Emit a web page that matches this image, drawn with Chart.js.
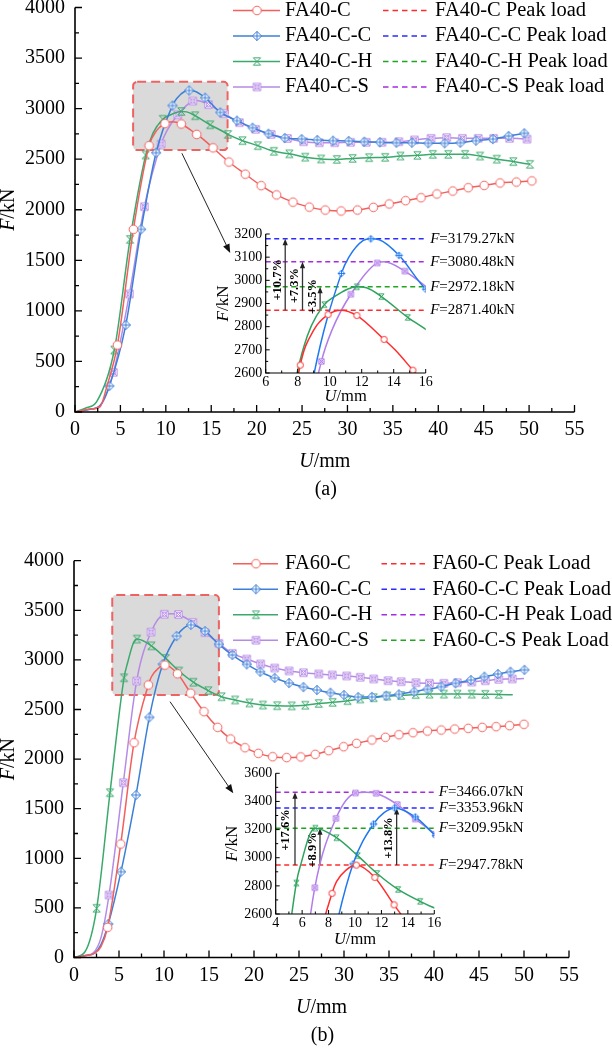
<!DOCTYPE html>
<html>
<head>
<meta charset="utf-8">
<script src="https://cdn.jsdelivr.net/npm/chart.js@4.4.1/dist/chart.umd.min.js"></script>
<style>
body { margin: 0; background: #fff; }
#wrap { position: relative; width: 612px; height: 1050px; overflow: hidden; background: #fff; }
canvas { position: absolute; }
</style>
</head>
<body>
<div id="wrap">
  <canvas id="topMain" width="612" height="520" style="left:0px;top:0px;width:612px;height:520px"></canvas>
  <canvas id="topInset" width="330" height="200" style="left:200px;top:215px;width:330px;height:200px"></canvas>
  <canvas id="botMain" width="612" height="510" style="left:0px;top:540px;width:612px;height:510px"></canvas>
  <canvas id="botInset" width="330" height="200" style="left:205px;top:755px;width:330px;height:200px"></canvas>
</div>
<script>
const serif = "'Liberation Serif', 'Times New Roman', serif";

// ---------- panel (a): FA40 ----------
const topNames = ['FA40-C', 'FA40-C-C', 'FA40-C-H', 'FA40-C-S'];
const topPeakNames = ['FA40-C Peak load', 'FA40-C-C Peak load', 'FA40-C-H Peak load', 'FA40-C-S Peak load'];
const topPeaks = [2871.40, 3179.27, 2972.18, 3080.48];

// [U (mm), F (kN)]; "Marks" carry a symbol, "Extra" only shape the line
const topRedMarks = [[4.67,662],[6.43,1806],[8.16,2634],[9.9,2852],[11.7,2848],[13.4,2745],[15.2,2612],[16.95,2472],[18.75,2352],[20.5,2238],[22.2,2147],[24.0,2075],[25.8,2026],[27.55,1997],[29.3,1988],[31.1,1997],[32.85,2024],[34.6,2057],[36.4,2090],[38.1,2119],[39.85,2156],[41.6,2185],[43.3,2218],[45.05,2241],[46.8,2265],[48.6,2274],[50.3,2285]];
const topRedExtra = [[0,0],[1.5,28],[2.76,52],[3.5,250],[9.0,2785],[10.7,2871.40],[14.1,2699]];
const topBlueMarks = [[3.78,257],[5.59,860],[7.28,1806],[8.93,2564],[10.73,3030],[12.57,3179.27],[14.33,3108],[16.0,2962],[17.83,2881],[19.55,2811],[21.3,2752],[23.1,2709],[24.96,2699],[26.68,2690],[28.41,2683],[30.13,2680],[31.86,2673],[33.59,2667],[35.4,2663],[37.1,2663],[38.9,2657],[40.7,2657],[42.44,2663],[44.16,2683],[46.02,2699],[47.74,2729],[49.47,2756]];
const topBlueExtra = [[0,0],[1.5,25],[2.8,70],[11.2,3100],[12.1,3172],[13.1,3175]];
const topGreenMarks = [[4.33,613],[6.06,1707],[7.79,2541],[9.67,2895],[11.7,2972.18],[13.23,2930],[14.88,2840],[16.84,2745],[18.45,2683],[20.14,2634],[21.9,2578],[23.6,2553],[25.35,2520],[27.1,2502],[28.84,2498],[30.57,2508],[32.38,2515],[34.15,2518],[35.83,2531],[37.7,2538],[39.4,2548],[41.1,2548],[42.95,2548],[44.6,2531],[46.45,2500],[48.26,2476],[50.1,2449]];
const topGreenExtra = [[0,0],[1.2,40],[2.39,102],[8.6,2760],[10.2,2925],[12.3,2968],[16.2,2779]];
const topPurpleMarks = [[4.23,392],[5.99,1167],[7.64,2030],[9.48,2650],[11.32,2940],[12.97,3075],[14.7,3040],[16.43,2950],[18.1,2861],[19.9,2795],[21.6,2745],[23.4,2705],[25.17,2673],[26.9,2663],[28.6,2663],[30.35,2667],[32.07,2667],[33.8,2667],[35.66,2673],[37.38,2690],[39.2,2706],[40.93,2713],[42.66,2706],[44.4,2706],[46.1,2706],[47.85,2706],[49.77,2699]];
const topPurpleExtra = [[0,0],[1.5,25],[2.8,65],[10.14,2785],[13.4,3080.48],[16.0,2974]];

const topGainLabels = ['+10.7%', '+7.3%', '+3.5%'];
const topGainTo = [3179.27, 3080.48, 2972.18];
const topGainX = [7.22, 8.3, 9.4];
const topGainTextX = [6.75, 7.8, 8.96];
const topGainTextY = [3002, 2977, 2930];
const topZoomBox = [6.4, 16.8, 2590, 3265];
const topPointer = [[11.77, 2558], [17.09, 1572]];

// ---------- panel (b): FA60 ----------
const botNames = ['FA60-C', 'FA60-C-C', 'FA60-C-H', 'FA60-C-S'];
const botPeakNames = ['FA60-C Peak Load', 'FA60-C-C Peak Load', 'FA60-C-H Peak Load', 'FA60-C-S Peak Load'];
const botPeaks = [2947.78, 3353.96, 3209.95, 3466.07];

const botRedMarks = [[3.74,304],[5.19,1144],[6.67,2165],[8.26,2747],[10.1,2947.78],[11.5,2860],[12.96,2665],[14.44,2478],[15.96,2320],[17.4,2203],[19.0,2115],[20.48,2058],[22.07,2024],[23.63,2015],[25.2,2022],[26.8,2048],[28.3,2085],[29.96,2125],[31.4,2159],[33.1,2193],[34.6,2220],[36.1,2246],[37.66,2266],[39.27,2283],[40.8,2293],[42.3,2303],[43.8,2310],[45.36,2320],[46.9,2327],[48.4,2337],[50.0,2351]];
const botRedExtra = [[0,0],[1.2,18],[2.3,45],[3.0,110],[8.6,2830],[9.3,2910]];
const botBlueMarks = [[3.81,338],[5.22,865],[6.89,1638],[8.37,2421],[9.85,2956],[11.4,3240],[13.0,3353.96],[14.56,3290],[16.1,3157],[17.6,3049],[19.2,2955],[20.7,2880],[22.3,2818],[23.9,2767],[25.5,2726],[27.0,2697],[28.5,2669],[30.0,2646],[31.57,2625],[33.1,2627],[34.7,2639],[36.1,2653],[37.8,2680],[39.27,2703],[40.8,2730],[42.4,2764],[44.1,2797],[45.6,2831],[47.1,2858],[48.5,2881],[50.05,2900]];
const botBlueExtra = [[0,0],[1.2,18],[2.3,45],[3.0,130],[12.2,3320]];
const botGreenMarks = [[2.52,496],[4.0,1661],[5.56,2820],[7.0,3209.95],[8.6,3142],[10.2,3015],[11.67,2888],[13.26,2775],[14.93,2690],[16.4,2629],[17.9,2596],[19.5,2566],[21.0,2545],[22.57,2538],[24.2,2536],[25.7,2543],[27.2,2560],[28.74,2572],[30.4,2589],[31.8,2606],[33.3,2619],[34.8,2636],[36.35,2641],[37.97,2650],[39.5,2655],[41.1,2655],[42.6,2655],[44.2,2655],[45.7,2653],[47.2,2652]];
const botGreenExtra = [[0,0],[1.22,58],[5.97,2976],[6.6,3170],[48.75,2648]];
const botPurpleMarks = [[3.89,630],[5.48,1762],[6.96,2787],[8.56,3280],[10.04,3460],[11.6,3458],[13.2,3378],[14.56,3275],[16.1,3167],[17.6,3066],[19.2,3009],[20.74,2959],[22.3,2918],[23.9,2889],[25.5,2871],[27.2,2858],[28.7,2848],[30.3,2838],[31.8,2825],[33.3,2808],[34.9,2790],[36.35,2780],[38.0,2770],[39.5,2764],[41.1,2764],[42.6,2770],[44.2,2777],[45.7,2790],[47.2,2804],[48.7,2808]];
const botPurpleExtra = [[0,0],[1.2,20],[2.15,48],[3.0,200],[10.8,3466.07],[50.0,2812]];

const botGainLabels = ['+17.6%', '+8.9%', '+13.8%'];
const botGainTo = [3466.07, 3209.95, 3353.96];
const botGainX = [5.46, 7.35, 13.15];
const botGainTextX = [4.78, 6.84, 12.52];
const botGainTextY = [3197, 3055, 3140];
const botZoomBox = [4.25, 16.1, 2646, 3654];
const botPointer = [[10.67, 2579], [17.7, 1655]];

// ---------- ticks ----------
const mainXTicks = [0, 5, 10, 15, 20, 25, 30, 35, 40, 45, 50, 55];
const mainYTicks = [0, 500, 1000, 1500, 2000, 2500, 3000, 3500, 4000];
const topInsetXTicks = [6, 8, 10, 12, 14, 16];
const topInsetYTicks = [2600, 2700, 2800, 2900, 3000, 3100, 3200];
const botInsetXTicks = [4, 6, 8, 10, 12, 14, 16];
const botInsetYTicks = [2600, 2800, 3000, 3200, 3400, 3600];

// ---------- styles ----------
const mainColors = ['#f25f5c', '#3c7fd8', '#3aa96b', '#b68be6'];
const insetColors = ['#ff2d2d', '#1f78f0', '#2ea35e', '#b27ceb'];
const peakRed = '#ff2b2b', peakBlue = '#2b2bff', peakGreen = '#1fa51f', peakPurple = '#a72be0';
const topPeakColors = [peakRed, peakBlue, peakGreen, peakPurple];
const botLegendPeakColors = [peakRed, peakBlue, peakPurple, peakGreen];
const botPeakColors = [peakRed, peakBlue, peakGreen, peakPurple];
const markerKinds = ['circle', 'diamond', 'hourglass', 'box'];

function makeMarker(kind, color, r) {
  const n = Math.ceil(2 * r + 4);
  const c = document.createElement('canvas');
  c.width = n; c.height = n;
  const g = c.getContext('2d');
  const m = n / 2;
  g.strokeStyle = color; g.fillStyle = '#fff'; g.lineWidth = 1;
  g.beginPath();
  if (kind === 'circle') {
    g.arc(m, m, r, 0, Math.PI * 2); g.fill(); g.stroke();
  } else if (kind === 'diamond') {
    g.moveTo(m, m - r); g.lineTo(m + r, m); g.lineTo(m, m + r); g.lineTo(m - r, m); g.closePath();
    g.fill(); g.stroke();
    g.beginPath(); g.moveTo(m - r, m); g.lineTo(m + r, m); g.moveTo(m, m - r); g.lineTo(m, m + r); g.stroke();
  } else if (kind === 'hourglass') {
    const q = r * 0.85;
    g.moveTo(m - q, m - q); g.lineTo(m + q, m + q); g.lineTo(m - q, m + q); g.lineTo(m + q, m - q); g.closePath();
    g.stroke();
  } else {
    const q = r * 0.85;
    g.rect(m - q, m - q, 2 * q, 2 * q); g.fill(); g.stroke();
    g.beginPath(); g.moveTo(m - q, m - q); g.lineTo(m + q, m + q); g.moveTo(m + q, m - q); g.lineTo(m - q, m + q); g.stroke();
    g.beginPath(); g.arc(m, m, q * 0.55, 0, Math.PI * 2); g.stroke();
  }
  return c;
}
const mainMarkers = markerKinds.map((k, i) => makeMarker(k, mainColors[i], k === 'diamond' ? 4.6 : 4.3));
const insetMarkers = markerKinds.map((k, i) => makeMarker(k, insetColors[i], k === 'diamond' ? 3.4 : 3.1));

function series(marks, extra) {
  return marks.map(p => ({ x: p[0], y: p[1], m: 1 }))
    .concat(extra.map(p => ({ x: p[0], y: p[1], m: 0 })))
    .sort((a, b) => a.x - b.x);
}

// ---------- drawing helpers ----------
function mixed(ctx, parts, x, y, size, align) {
  const fonts = parts.map(p => (p[1] ? 'italic ' : '') + (p[2] ? 'bold ' : '') + size + 'px ' + serif);
  const widths = parts.map((p, i) => { ctx.font = fonts[i]; return ctx.measureText(p[0]).width; });
  const w = widths.reduce((s, v) => s + v, 0);
  let cx = align === 'center' ? x - w / 2 : x;
  ctx.textAlign = 'left';
  ctx.textBaseline = 'middle';
  ctx.fillStyle = '#000';
  parts.forEach((p, i) => { ctx.font = fonts[i]; ctx.fillText(p[0], cx, y); cx += widths[i]; });
}

function rotated(ctx, parts, x, y, size) {
  ctx.save();
  ctx.translate(x, y);
  ctx.rotate(-Math.PI / 2);
  mixed(ctx, parts, 0, 0, size, 'center');
  ctx.restore();
}

function head(ctx, x0, y0, x1, y1, len, hw) {
  const a = Math.atan2(y1 - y0, x1 - x0);
  const bx = x1 - len * Math.cos(a), by = y1 - len * Math.sin(a);
  ctx.beginPath();
  ctx.moveTo(x1, y1);
  ctx.lineTo(bx + hw * Math.sin(a), by - hw * Math.cos(a));
  ctx.lineTo(bx - hw * Math.sin(a), by + hw * Math.cos(a));
  ctx.closePath();
  ctx.fill();
}

function drawAxes(chart, o) {
  const { ctx, chartArea: a, scales: { x, y } } = chart;
  ctx.save();
  ctx.strokeStyle = '#000';
  ctx.setLineDash([]);
  ctx.lineWidth = o.tickW;
  ctx.beginPath();
  o.xTicks.forEach((v, i) => {
    const px = x.getPixelForValue(v);
    ctx.moveTo(px, a.bottom); ctx.lineTo(px, a.bottom - o.major);
    if (i < o.xTicks.length - 1) {
      const pm = x.getPixelForValue((v + o.xTicks[i + 1]) / 2);
      ctx.moveTo(pm, a.bottom); ctx.lineTo(pm, a.bottom - o.minor);
    }
  });
  o.yTicks.forEach((v, i) => {
    const py = y.getPixelForValue(v);
    ctx.moveTo(a.left, py); ctx.lineTo(a.left + o.major, py);
    if (i < o.yTicks.length - 1) {
      const pm = y.getPixelForValue((v + o.yTicks[i + 1]) / 2);
      ctx.moveTo(a.left, pm); ctx.lineTo(a.left + o.minor, pm);
    }
  });
  ctx.stroke();
  ctx.lineWidth = o.axisW;
  ctx.beginPath();
  ctx.moveTo(a.left, a.top);
  ctx.lineTo(a.left, a.bottom);
  ctx.lineTo(a.right, a.bottom);
  ctx.stroke();
  ctx.restore();
}

function drawZoomBox(chart, b) {
  const { ctx, scales: { x, y } } = chart;
  const x0 = x.getPixelForValue(b[0]), x1 = x.getPixelForValue(b[1]);
  const y0 = y.getPixelForValue(b[3]), y1 = y.getPixelForValue(b[2]);
  ctx.save();
  ctx.beginPath();
  if (ctx.roundRect) ctx.roundRect(x0, y0, x1 - x0, y1 - y0, 4); else ctx.rect(x0, y0, x1 - x0, y1 - y0);
  ctx.fillStyle = '#dadada';
  ctx.fill();
  ctx.setLineDash([9, 5]);
  ctx.lineWidth = 2;
  ctx.strokeStyle = '#ef6262';
  ctx.stroke();
  ctx.restore();
}

function drawPointer(chart, p) {
  const { ctx, scales: { x, y } } = chart;
  const x0 = x.getPixelForValue(p[0][0]), y0 = y.getPixelForValue(p[0][1]);
  const x1 = x.getPixelForValue(p[1][0]), y1 = y.getPixelForValue(p[1][1]);
  const a = Math.atan2(y1 - y0, x1 - x0);
  ctx.save();
  ctx.strokeStyle = '#222'; ctx.fillStyle = '#111'; ctx.lineWidth = 1;
  ctx.beginPath();
  ctx.moveTo(x0, y0);
  ctx.lineTo(x1 - 7 * Math.cos(a), y1 - 7 * Math.sin(a));
  ctx.stroke();
  head(ctx, x0, y0, x1, y1, 9, 3.5);
  ctx.restore();
}

function drawLegend(chart, L) {
  const { ctx, chartArea: a } = chart;
  ctx.save();
  L.names.forEach((n, i) => {
    const y = a.top + 3 + i * 25.5;
    ctx.setLineDash([]);
    ctx.strokeStyle = mainColors[i]; ctx.lineWidth = 1.5;
    ctx.beginPath(); ctx.moveTo(L.x1a, y); ctx.lineTo(L.x1b, y); ctx.stroke();
    const m = mainMarkers[i];
    ctx.drawImage(m, L.xm - m.width / 2, y - m.height / 2);
    mixed(ctx, [[n, 0]], L.xt1, y, 20.5, 'left');
    ctx.setLineDash([5.5, 4]);
    ctx.strokeStyle = L.peakColors[i]; ctx.lineWidth = 1.5;
    ctx.beginPath(); ctx.moveTo(L.x2a, y); ctx.lineTo(L.x2b, y); ctx.stroke();
    mixed(ctx, [[L.peakNames[i], 0]], L.xt2, y, 20.5, 'left');
  });
  ctx.restore();
}

function drawMainTitles(chart, tag) {
  const { ctx, chartArea: a } = chart;
  const cx = (a.left + a.right) / 2;
  ctx.save();
  mixed(ctx, [['U', 1], ['/mm', 0]], cx, a.bottom + 50, 20, 'center');
  mixed(ctx, [['(' + tag + ')', 0]], cx + 1, a.bottom + 78, 20, 'center');
  rotated(ctx, [['F', 1], ['/kN', 0]], 9, (a.top + a.bottom) / 2, 20);
  ctx.restore();
}

function drawInsetDeco(chart, o) {
  const { ctx, chartArea: a, scales: { x, y } } = chart;
  ctx.save();
  o.peaks.forEach((v, i) => {
    const py = y.getPixelForValue(v);
    ctx.setLineDash([5, 3.5]);
    ctx.strokeStyle = o.peakColors[i]; ctx.lineWidth = 1.5;
    ctx.beginPath(); ctx.moveTo(a.left, py); ctx.lineTo(a.right, py); ctx.stroke();
    mixed(ctx, [['F', 1], ['=' + v.toFixed(2) + 'kN', 0]], a.right + 4.5, py, 15, 'left');
  });
  ctx.setLineDash([]);
  const base = y.getPixelForValue(o.base);
  o.gainLabels.forEach((t, i) => {
    const px = x.getPixelForValue(o.gainX[i]);
    const top = y.getPixelForValue(o.gainTo[i]);
    ctx.strokeStyle = '#333'; ctx.fillStyle = '#222'; ctx.lineWidth = 1.3;
    ctx.beginPath(); ctx.moveTo(px, base); ctx.lineTo(px, top + 5); ctx.stroke();
    head(ctx, px, base, px, top, 6.5, 2.6);
    rotated(ctx, [[t, 0, 1]], x.getPixelForValue(o.gainTextX[i]), y.getPixelForValue(o.gainTextY[i]), 12.5);
  });
  mixed(ctx, [['U', 1], ['/mm', 0]], (a.left + a.right) / 2, a.bottom + o.uDy, 16.5, 'center');
  rotated(ctx, [['F', 1], ['/kN', 0]], o.fx, (a.top + a.bottom) / 2, 17);
  ctx.restore();
}

function deco(cfg) {
  return {
    id: 'deco',
    beforeDatasetsDraw(chart) { if (cfg.before) cfg.before(chart); },
    afterDraw(chart) { drawAxes(chart, cfg.axes); if (cfg.after) cfg.after(chart); }
  };
}

function scaleOpts(ticks, size, pad, fit) {
  return {
    type: 'linear',
    min: ticks[0],
    max: ticks[ticks.length - 1],
    afterBuildTicks: s => { s.ticks = ticks.map(v => ({ value: v })); },
    afterFit: fit,
    grid: { display: false, drawTicks: false },
    border: { display: false },
    ticks: { font: { family: serif, size: size }, color: '#000', padding: pad, maxRotation: 0, autoSkip: false, callback: v => String(v) }
  };
}

function makeChart(id, sets, colors, markers, radius, lw, o) {
  return new Chart(document.getElementById(id), {
    type: 'line',
    data: {
      datasets: sets.map((d, i) => ({
        data: d,
        borderColor: colors[i],
        borderWidth: lw,
        cubicInterpolationMode: 'monotone',
        pointStyle: markers[i],
        pointRadius: c => (c.raw && c.raw.m) ? radius : 0,
        pointHoverRadius: 0
      }))
    },
    options: {
      responsive: false,
      animation: false,
      devicePixelRatio: 1,
      events: [],
      layout: { padding: o.pad },
      scales: {
        x: scaleOpts(o.xTicks, o.font, o.xPad, s => { s.height = o.xh; s.paddingLeft = 0; s.paddingRight = 0; }),
        y: scaleOpts(o.yTicks, o.font, o.yPad, s => { s.width = o.yw; s.paddingTop = 0; s.paddingBottom = 0; })
      },
      plugins: { legend: { display: false }, tooltip: { enabled: false } }
    },
    plugins: [deco(o.deco)]
  });
}

// ---------- panel (a) ----------
const topSets = () => [series(topRedMarks, topRedExtra), series(topBlueMarks, topBlueExtra), series(topGreenMarks, topGreenExtra), series(topPurpleMarks, topPurpleExtra)];
const botSets = () => [series(botRedMarks, botRedExtra), series(botBlueMarks, botBlueExtra), series(botGreenMarks, botGreenExtra), series(botPurpleMarks, botPurpleExtra)];

makeChart('topMain', topSets(), mainColors, mainMarkers, 4, 1.5, {
  pad: { left: 0, top: 7.5, right: 37.5, bottom: 68 },
  xTicks: mainXTicks, yTicks: mainYTicks, font: 20, xPad: 6, yPad: 10, xh: 40, yw: 75,
  deco: {
    axes: { xTicks: mainXTicks, yTicks: mainYTicks, major: 7, minor: 4, tickW: 1.3, axisW: 1.6 },
    before: c => drawZoomBox(c, topZoomBox),
    after: c => {
      drawPointer(c, topPointer);
      drawLegend(c, { names: topNames, peakNames: topPeakNames, peakColors: topPeakColors, x1a: 233, x1b: 280, xm: 257, xt1: 285, x2a: 383, x2b: 430, xt2: 435 });
      drawMainTitles(c, 'a');
    }
  }
});

makeChart('topInset', topSets(), insetColors, insetMarkers, 3, 1.5, {
  pad: { left: 0, top: 19, right: 104.3, bottom: 20 },
  xTicks: topInsetXTicks, yTicks: topInsetYTicks, font: 14, xPad: 1, yPad: 3.5, xh: 22, yw: 65.7,
  deco: {
    axes: { xTicks: topInsetXTicks, yTicks: topInsetYTicks, major: 4, minor: 2.5, tickW: 1, axisW: 1.2 },
    before: c => drawInsetDeco(c, {
      peaks: topPeaks, peakColors: topPeakColors, base: topPeaks[0],
      gainLabels: topGainLabels, gainTo: topGainTo, gainX: topGainX, gainTextX: topGainTextX, gainTextY: topGainTextY,
      uDy: 24, fx: 24
    })
  }
});

// ---------- panel (b) ----------
makeChart('botMain', botSets(), mainColors, mainMarkers, 4, 1.5, {
  pad: { left: 0, top: 20.7, right: 43, bottom: 52.5 },
  xTicks: mainXTicks, yTicks: mainYTicks, font: 20, xPad: 6, yPad: 10, xh: 40, yw: 74,
  deco: {
    axes: { xTicks: mainXTicks, yTicks: mainYTicks, major: 7, minor: 4, tickW: 1.3, axisW: 1.6 },
    before: c => drawZoomBox(c, botZoomBox),
    after: c => {
      drawPointer(c, botPointer);
      drawLegend(c, { names: botNames, peakNames: botPeakNames, peakColors: botLegendPeakColors, x1a: 233, x1b: 278, xm: 256, xt1: 285, x2a: 381.5, x2b: 427, xt2: 432.5 });
      drawMainTitles(c, 'b');
    }
  }
});

makeChart('botInset', botSets(), insetColors, insetMarkers, 3, 1.5, {
  pad: { left: 0, top: 18.3, right: 100.7, bottom: 19 },
  xTicks: botInsetXTicks, yTicks: botInsetYTicks, font: 14, xPad: 1, yPad: 3.5, xh: 22, yw: 70.7,
  deco: {
    axes: { xTicks: botInsetXTicks, yTicks: botInsetYTicks, major: 4, minor: 2.5, tickW: 1, axisW: 1.2 },
    before: c => drawInsetDeco(c, {
      peaks: botPeaks, peakColors: botPeakColors, base: botPeaks[0],
      gainLabels: botGainLabels, gainTo: botGainTo, gainX: botGainX, gainTextX: botGainTextX, gainTextY: botGainTextY,
      uDy: 26, fx: 28
    })
  }
});
</script>
</body>
</html>
